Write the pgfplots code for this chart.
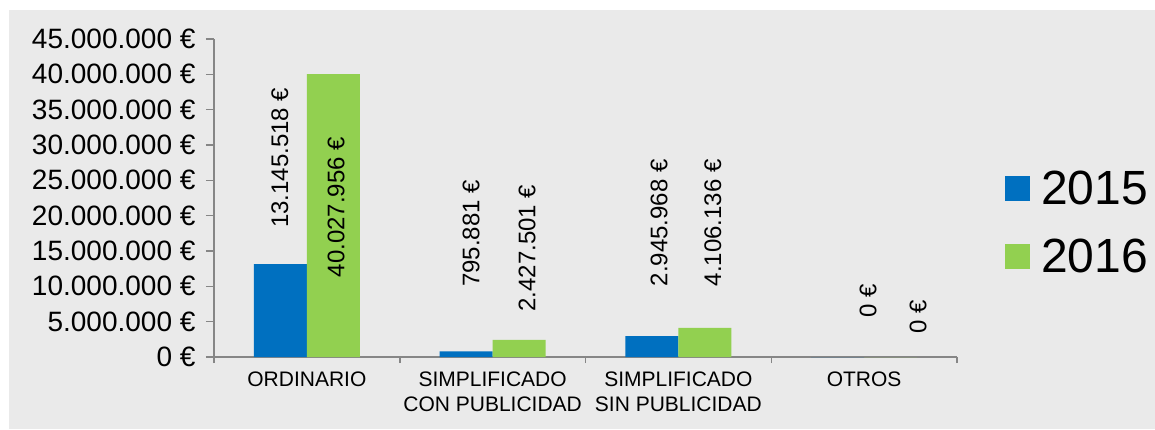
\documentclass[border=0pt]{standalone}
\usepackage{fontspec}
\setmainfont{Liberation Sans}
\usepackage{pgfplots}
\pgfplotsset{compat=1.18}
\definecolor{c15}{HTML}{0070C0}
\definecolor{c16}{HTML}{92D050}
\definecolor{bg}{HTML}{EAEAEA}
\definecolor{axc}{HTML}{868686}
\begin{document}
\begin{tikzpicture}
\fill[white] (-214pt,-72pt) rectangle (941pt,357pt);
\fill[bg] (-205pt,-72pt) rectangle (941pt,347pt);
\begin{axis}[
  at={(0pt,0pt)}, anchor=south west,
  scale only axis, width=743pt, height=318pt,
  ybar=0pt, bar width=53pt,
  xmin=-0.5, xmax=3.5, ymin=0, ymax=45000000,
  axis x line*=bottom, axis y line*=left,
  axis line style={draw=axc, line width=1.6pt, -},
  clip=false,
  scaled y ticks=false,
  ytick={0,5000000,10000000,15000000,20000000,25000000,30000000,35000000,40000000,45000000},
  yticklabel={\pgfmathprintnumber[fixed,precision=0,1000 sep={.},assume math mode=true]{\tick}~€},
  yticklabel style={font=\fontsize{28}{28}\selectfont, text=black, xshift=-7pt},
  tick align=outside, major tick length=8pt, minor tick length=6pt,
  y tick style={draw=axc, line width=1.5pt},
  xtick={0,1,2,3},
  xticklabels={ORDINARIO,{SIMPLIFICADO\\CON PUBLICIDAD},{SIMPLIFICADO\\SIN PUBLICIDAD},OTROS},
  xticklabel style={align=center, font=\fontsize{21}{25}\selectfont, anchor=north, text=black, yshift=-3pt},
  major x tick style={draw=none},
  minor xtick={-0.5,0.5,1.5,2.5,3.5},
  minor x tick style={draw=axc, line width=1.5pt},
  legend image code/.code={\fill[#1] (0pt,-12.5pt) rectangle (25pt,12.5pt);},
  legend cell align=left,
  legend style={draw=none, fill=none, at={(1.0646,0.4245)}, anchor=west,
    font=\fontsize{48}{48}\selectfont, row sep=29pt, inner sep=0pt,
    /tikz/every odd column/.append style={column sep=9pt}},
]
\addplot[fill=c15, draw=none] coordinates {(0,13145518) (1,795881) (2,2945968) (3,0)};
\addplot[fill=c16, draw=none] coordinates {(0,40027956) (1,2427501) (2,4106136) (3,0)};
\legend{2015,2016}
\begin{scope}[every node/.style={rotate=90, font=\fontsize{24}{24}\selectfont, inner sep=0pt}]
\node at (axis cs:-0.145,28200000) {13.145.518 €};
\node at (axis cs:0.157,21200000) {40.027.956 €};
\node at (axis cs:0.884,17500000) {795.881 €};
\node at (axis cs:1.185,15400000) {2.427.501 €};
\node at (axis cs:1.896,19000000) {2.945.968 €};
\node at (axis cs:2.186,19000000) {4.106.136 €};
\node at (axis cs:3.021,7900000) {0 €};
\node at (axis cs:3.290,5700000) {0 €};
\end{scope}
\end{axis}
\pgfresetboundingbox
\useasboundingbox (-214pt,-72pt) rectangle (941pt,357pt);
\end{tikzpicture}
\end{document}
